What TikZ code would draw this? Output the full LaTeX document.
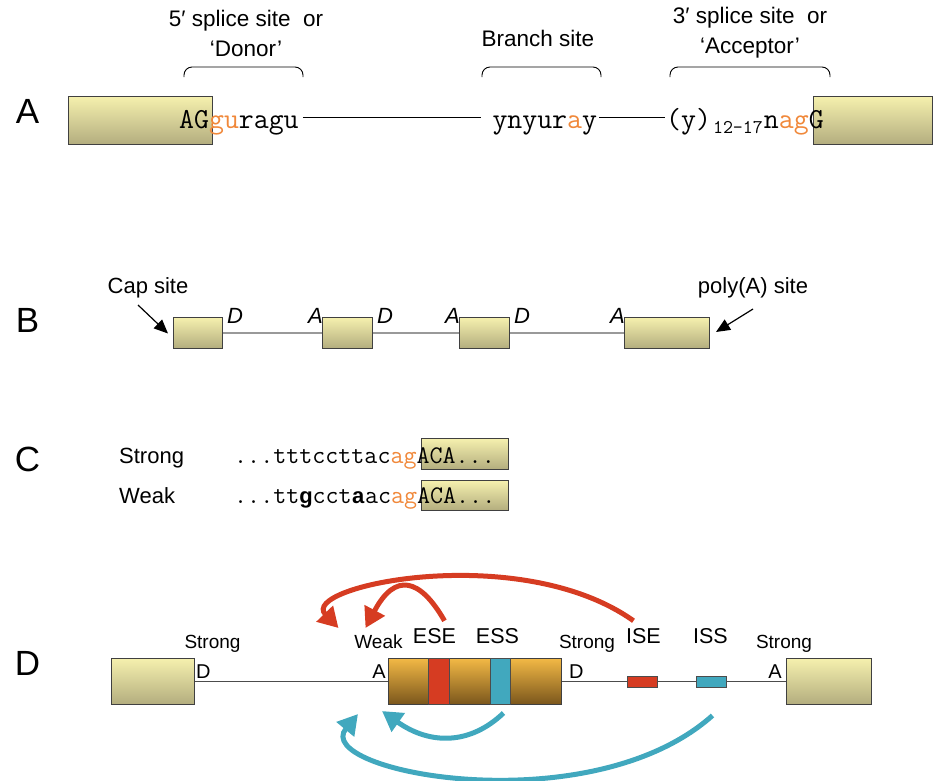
\documentclass[tikz,border=0pt]{standalone}
\usepackage{fontspec}
\setmainfont{Liberation Sans}
\setsansfont{Liberation Sans}
\usepackage{xcolor}
\usetikzlibrary{positioning, arrows.meta}

\definecolor{exontop}{HTML}{F5F0AE}
\definecolor{exonbot}{HTML}{B3AD7E}
\definecolor{alttop}{HTML}{F2B845}
\definecolor{altbot}{HTML}{7A561C}
\definecolor{splred}{HTML}{D63C22}
\definecolor{splblue}{HTML}{41A8BE}
\definecolor{ntorange}{HTML}{F0883A}

\newcommand{\orng}[1]{\textcolor{ntorange}{#1}}
\newcommand{\bnt}[1]{\makebox[0.525em]{\fontsize{22}{26}\sffamily\bfseries #1}}

\tikzset{
  exon/.style={draw=black!75, line width=1pt, top color=exontop, bottom color=exonbot,
    inner sep=0pt, anchor=north west},
  altexon/.style={exon, top color=alttop, bottom color=altbot},
  stripe/.style={draw=black!70, line width=1pt, inner sep=0pt, anchor=north west},
  panel/.style={font=\fontsize{35}{40}\selectfont, anchor=base, inner sep=0pt},
  lbl/.style={font=\fontsize{22.5}{30}\selectfont, align=center, inner sep=0pt},
  seqA/.style={font=\ttfamily\fontsize{29}{32}\selectfont, anchor=base west, inner sep=0pt},
  seqC/.style={font=\ttfamily\fontsize{25.3}{28}\selectfont, anchor=base west, inner sep=0pt},
  site/.style={font=\fontsize{22}{26}\selectfont, anchor=base, inner sep=0pt},
  sitesm/.style={font=\fontsize{19}{22}\selectfont, anchor=base, inner sep=0pt},
  bracket/.style={line width=0.9pt, rounded corners=8pt},
  sigarrow/.style={line width=5pt, -{Triangle[length=20pt,width=22pt]}},
  pointer/.style={line width=1.2pt, -{Triangle[length=14pt,width=12pt]}},
}

\begin{document}
\begin{tikzpicture}[>=Stealth, x=1pt, y=-1pt]
    \useasboundingbox (0,0) rectangle (935,780);

    % Panel letters
    \foreach \p/\y in {A/123, B/332, C/471, D/675} {
        \node[panel] (panel\p) at (27.5,\y) {\p};
    }

    % ---------------- A: consensus sequences
    \node[exon, minimum width=144pt, minimum height=48pt] (exA1) at (68,96) {};
    \node[exon, minimum width=119pt, minimum height=48pt] (exA2) at (813,96) {};

    \node[seqA] (donorSeq) at (179,128) {AG\orng{gu}ragu};
    \node[seqA] (branchSeq) at (492.3,128) {ynyur\orng{a}y};
    \node[seqA] (accSeq) at (666,128)
        {(y)\raisebox{-5pt}{\fontsize{19.4}{20}\selectfont\hspace{2pt}12-17}\hspace{1pt}n\orng{ag}G};

    \draw[line width=1pt] ([shift={(4,-11)}]donorSeq.base east) -- ([shift={(-11,-11)}]branchSeq.base west);
    \draw[line width=1pt] ([shift={(2,-11)}]branchSeq.base east) -- ([shift={(-1,-11)}]accSeq.base west);

    % brackets over the three sites
    \foreach \a/\b in {184/303, 482/601, 670/830} {
        \draw[bracket] (\a,77) -- (\a,67) -- (\b,67) -- (\b,77);
    }
    \node[lbl, anchor=north] (donorLbl) at (246,10) {5′ splice site\ \ or\\‘Donor’};
    \node[lbl, anchor=base] (branchLbl) at (538,46) {Branch site};
    \node[lbl, anchor=north] (accLbl) at (750,7) {3′ splice site\ \ or\\‘Acceptor’};

    % ---------------- B: gene with exons
    \foreach \n/\xa/\xb in {1/173/222, 2/322/372, 3/459/509, 4/624/709} {
        \node[exon, minimum width={(\xb-\xa)*1pt}, minimum height=31pt] (exB\n) at (\xa,317) {};
    }
    \foreach \a/\b in {1/2, 2/3, 3/4} {
        \draw[black!40, line width=2pt] (exB\a.east) -- (exB\b.west);
    }
    \foreach \n in {1,2,3} {
        \node[site, anchor=base west, font=\fontsize{22}{26}\selectfont\itshape] (dB\n) at ([shift={(4,-10)}]exB\n.east) {D};
    }
    \foreach \n in {2,3,4} {
        \node[site, anchor=base east, font=\fontsize{22}{26}\selectfont\itshape] (aB\n) at ([shift={(1,-10)}]exB\n.west) {A};
    }
    \node[site] (capLbl) at (148,293) {Cap site};
    \node[site] (polyLbl) at (753,293) {poly(A) site};
    \draw[pointer] ([shift={(-10,12)}]capLbl.base) -- ([shift={(-5,0.5)}]exB1.west);
    \draw[pointer] ([shift={(0,16)}]polyLbl.base) -- ([shift={(6,-1)}]exB4.east);

    % ---------------- C: strong and weak acceptor
    \node[exon, minimum width=87pt, minimum height=31pt] (boxS) at (421,438) {};
    \node[exon, minimum width=87pt, minimum height=30pt] (boxW) at (421,480) {};
    \node[site, anchor=base west] (strongC) at (119,463) {Strong};
    \node[site, anchor=base west] (weakC) at (119,503) {Weak};
    \node[seqC] (seqS) at (234,463) {...tttccttac\orng{ag}ACA...};
    \node[seqC] (seqW) at (234,503) {...tt\bnt{g}cct\bnt{a}ac\orng{ag}ACA...};

    % ---------------- D: regulatory elements
    \node[exon, minimum width=83pt, minimum height=46pt] (exD1) at (111,658) {};
    \node[exon, minimum width=85pt, minimum height=46pt] (exD2) at (786,658) {};
    \draw[black!70, line width=1.5pt] (exD1.east) -- (exD2.west);
    \node[altexon, minimum width=173pt, minimum height=46pt] (alt) at (388,658) {};
    \node[stripe, fill=splred, minimum width=21pt, minimum height=46pt] (eseBar) at (428,658) {};
    \node[stripe, fill=splblue, minimum width=20pt, minimum height=46pt] (essBar) at (490,658) {};
    \node[stripe, fill=splred, minimum width=30pt, minimum height=11pt] (iseBox) at (627,675.5) {};
    \node[stripe, fill=splblue, minimum width=30pt, minimum height=11pt] (issBox) at (696,675.5) {};

    \node[sitesm, anchor=base west, font=\fontsize{20}{24}\selectfont] (dD1) at (196,678) {D};
    \node[sitesm, anchor=base east, font=\fontsize{20}{24}\selectfont] (aD1) at (386,678) {A};
    \node[sitesm, anchor=base west, font=\fontsize{20}{24}\selectfont] (dD2) at (569,678) {D};
    \node[sitesm, anchor=base east, font=\fontsize{20}{24}\selectfont] (aD2) at (782,678) {A};

    \foreach \n/\x/\t in {s1/212.5/Strong, weak/378.5/Weak, s2/587/Strong, s3/784/Strong} {
        \node[sitesm] (\n) at (\x,648) {\t};
    }
    \foreach \n/\x/\t in {ese/434.5/ESE, ess/497.5/ESS, ise/643.5/ISE, iss/710.5/ISS} {
        \node[site, font=\fontsize{21.5}{26}\selectfont] (\n) at (\x,643) {\t};
    }

    % enhancer / silencer arrows
    \draw[sigarrow, splred] ([shift={(-10,-7)}]ise.north) .. controls (520,540) and (298,586) .. ([shift={(-40,-6)}]weak.north);
    \draw[sigarrow, splred] ([shift={(10,-7)}]ese.north) .. controls (420,578) and (395,572) .. ([shift={(-13,-6)}]weak.north);
    \draw[sigarrow, splblue] ([shift={(3,8)}]essBar.south) .. controls (470,745) and (430,745) .. ([shift={(-6,6)}]alt.south west);
    \draw[sigarrow, splblue] ([shift={(1,28)}]issBox.south) .. controls (590,825) and (310,772) .. ([shift={(-30,9)}]alt.south west);
\end{tikzpicture}
\end{document}
